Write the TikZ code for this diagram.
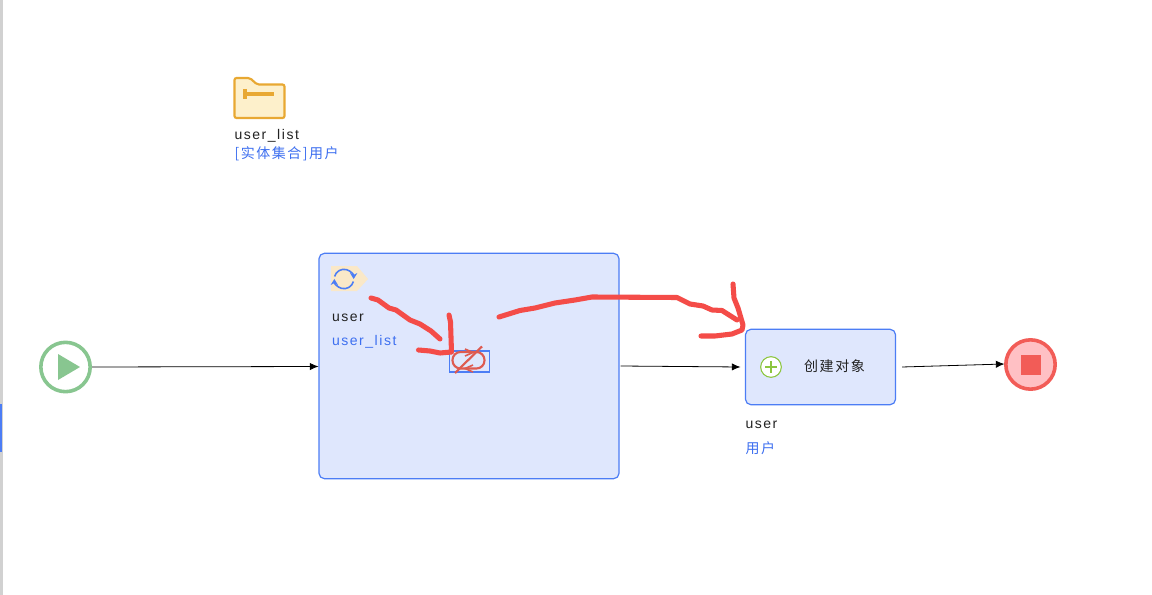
\documentclass[tikz,border=0pt]{standalone}
\usepackage{fontspec}
\setmainfont[LetterSpace=11]{Liberation Sans}
\newfontfamily\cjk[LetterSpace=11]{Noto Sans CJK SC}
\usetikzlibrary{arrows.meta}
\definecolor{bluetxt}{HTML}{3D6FF0}
\definecolor{boxfill}{HTML}{DFE7FD}
\definecolor{boxline}{HTML}{4C7DF5}
\definecolor{ink}{HTML}{F44C48}
\definecolor{inktwo}{HTML}{DE5A50}
\definecolor{folderline}{HTML}{E8A832}
\definecolor{folderfill}{HTML}{FDF0CB}
\definecolor{startc}{HTML}{88C690}
\definecolor{endc}{HTML}{F25C57}
\definecolor{endfill}{HTML}{FFC0C4}
\definecolor{tagfill}{HTML}{FAE8C8}
\definecolor{txt}{HTML}{222222}
\definecolor{plusc}{HTML}{8CC63F}
\tikzset{
  every node/.style={inner sep=0pt,outer sep=0pt},
  lbl/.style={anchor=west,font=\fontsize{10.5pt}{12pt}\selectfont,text=txt},
  lblblue/.style={anchor=west,font=\fontsize{10.5pt}{12pt}\selectfont,text=bluetxt},
  lblcjk/.style={anchor=west,font=\fontsize{10.5pt}{12pt}\cjk,text=bluetxt},
  flow/.style={draw=black,line width=0.6pt,-{Latex[length=6.5pt,width=5.5pt]}},
  pen/.style={draw=ink,line width=3.8pt,line cap=round,line join=round},
  panel/.style={draw=boxline,fill=boxfill,line width=0.9pt,rounded corners=4pt}
}
\begin{document}
\begin{tikzpicture}[x=0.75pt,y=-0.75pt]
\useasboundingbox (0,0) rectangle (1152,595);
\fill[white] (0,0) rectangle (1152,595);
\fill[black!18] (0,0) rectangle (3,595);
\fill[boxline] (0,404) rectangle (2,452);

% folder
\draw[draw=folderline,fill=folderfill,line width=1.6pt,rounded corners=1.5pt]
  (234.5,118) -- (234.5,78) -- (250,78) -- (257,84.5) -- (284.5,84.5) -- (284.5,118) -- cycle;
\draw[draw=folderline,line width=2.6pt] (244,94) -- (274,94);
\draw[draw=folderline,line width=2.6pt] (245,89) -- (245,99.5);
\node[lbl] (listname) at (234.5,136) {user\_list};
\node[lblcjk] (listtype) at (234.5,153.5) {[实体集合]用户};

% start
\node[circle,draw=startc,fill=white,line width=2.7pt,minimum size=37pt] (start) at (65.5,367) {};
\fill[startc] (58,354) -- (80,367) -- (58,380) -- cycle;

% loop panel
\node[panel,minimum width=225pt,minimum height=169pt] (loop) at (469,366) {};
\fill[tagfill] (331,266) -- (357,266) -- (368,279) -- (357,291) -- (331,291) -- cycle;
\draw[boxline,line width=1.2pt,-{Stealth[length=4.5pt,width=5.5pt]}] (334.6,276.5) arc[start angle=195,end angle=360,radius=9.7];
\draw[boxline,line width=1.2pt,-{Stealth[length=4.5pt,width=5.5pt]}] (353.4,281.5) arc[start angle=15,end angle=180,radius=9.7];
\node[lbl] (loopvar) at (332,317.5) {user};
\node[lblblue] (looplist) at (332,342) {user\_list};

% break icon
\node[draw=boxline,line width=1.1pt,minimum width=30pt,minimum height=15.5pt] (brk) at (469.5,361.5) {};
\draw[inktwo,line width=1.6pt,rounded corners=6pt] (452.5,352) rectangle (484.5,368.5);
\draw[inktwo,line width=1.6pt] (455,373) -- (482,346.5);
\draw[inktwo,line width=1.2pt] (465,349) -- (473,352.5) -- (465,356);
\draw[inktwo,line width=1.2pt] (473,365) -- (465,368.5) -- (473,372);

% create box
\node[panel,minimum width=112.5pt,minimum height=56.5pt] (create) at (820.5,367) {};
\node[circle,draw=plusc,fill=white,line width=0.8pt,minimum size=15.5pt] (plus) at (771,367) {};
\draw[plusc,line width=1.1pt] (765,367) -- (777,367) (771,361) -- (771,373);
\node[anchor=center,font=\fontsize{10.5pt}{12pt}\cjk,text=txt] (createname) at (834.5,366) {创建对象};
\node[lbl] (createvar) at (745.5,425) {user};
\node[lblcjk] (createtype) at (745.5,448.5) {用户};

% end
\node[circle,draw=endc,fill=endfill,line width=2.7pt,minimum size=37pt] (end) at (1030.5,364.5) {};
\fill[endc] (1020.5,354.5) rectangle (1040.5,374.5);

% flows
\coordinate (a1) at (92,367);
\coordinate (a2) at (318.5,366.5);
\draw[flow] (a1) -- (a2);
\coordinate (b1) at (620.5,366);
\coordinate (b2) at (740.5,367);
\draw[flow] (b1) -- (b2);
\coordinate (c1) at (902,367);
\coordinate (c2) at (1004.5,364);
\draw[flow] (c1) -- (c2);

% red pen
\draw[pen] (371,298) -- (378,300) -- (389,308) -- (396,310) -- (410,320) -- (420,324) -- (431,331) -- (440,339);
\draw[pen] (449,315) -- (450.5,322) -- (451.5,352);
\draw[pen] (418.5,350) -- (430,351) -- (440,353) -- (451,352);
\draw[pen] (499,317) -- (520,310.5) -- (535,308) -- (555,303) -- (575,300) -- (592,297) -- (677,297.5) -- (690,304) -- (703,306) -- (712,310) -- (722,310.5) -- (737,320);
\draw[pen] (733,284) -- (734,298) -- (738,308) -- (743,325) -- (742,330) -- (732,334) -- (715,336) -- (701,336);
\end{tikzpicture}
\end{document}
